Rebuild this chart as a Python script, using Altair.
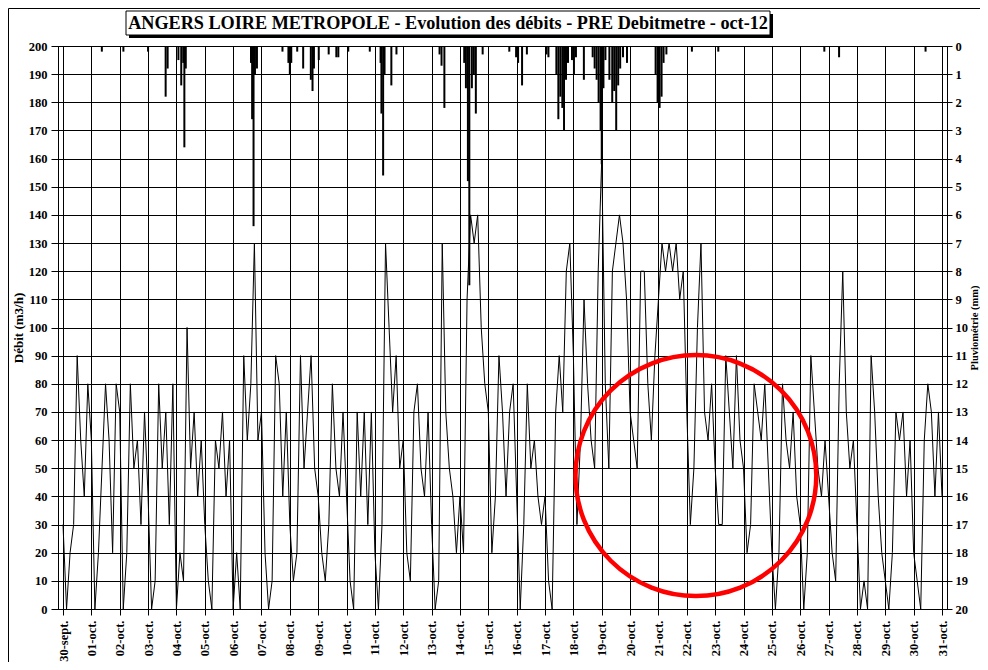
import altair as alt
import pandas as pd

TITLE = "ANGERS LOIRE METROPOLE - Evolution des débits - PRE Debitmetre - oct-12"

x_labels = ["30-sept.", "01-oct.", "02-oct.", "03-oct.", "04-oct.", "05-oct.", "06-oct.",
            "07-oct.", "08-oct.", "09-oct.", "10-oct.", "11-oct.", "12-oct.", "13-oct.",
            "14-oct.", "15-oct.", "16-oct.", "17-oct.", "18-oct.", "19-oct.", "20-oct.",
            "21-oct.", "22-oct.", "23-oct.", "24-oct.", "25-oct.", "26-oct.", "27-oct.",
            "28-oct.", "29-oct.", "30-oct.", "31-oct."]

# flow (m3/h), 8 readings per day (every 3 h), from 30-sept 00:00
flow_by_day = [
    [30, 0, 20, 30, 90, 60, 40, 80],
    [60, 0, 20, 50, 80, 60, 20, 80],
    [70, 0, 20, 80, 50, 60, 30, 70],
    [40, 0, 10, 80, 50, 70, 30, 80],
    [0, 20, 10, 100, 50, 70, 40, 60],
    [30, 10, 0, 60, 50, 70, 40, 60],
    [0, 20, 0, 90, 60, 80, 130, 60],
    [70, 20, 0, 10, 90, 80, 40, 70],
    [30, 10, 20, 90, 50, 70, 90, 50],
    [40, 20, 10, 30, 80, 50, 40, 70],
    [40, 10, 0, 70, 40, 70, 30, 70],
    [20, 0, 30, 130, 100, 70, 90, 50],
    [60, 20, 10, 70, 80, 50, 40, 70],
    [30, 0, 10, 130, 70, 50, 40, 20],
    [40, 20, 110, 140, 130, 140, 100, 80],
    [70, 20, 40, 90, 70, 40, 70, 80],
    [40, 0, 30, 80, 50, 60, 40, 30],
    [40, 10, 0, 70, 90, 70, 120, 130],
    [90, 30, 60, 110, 80, 60, 50, 120],
    [160, 80, 50, 120, 130, 140, 130, 110],
    [70, 60, 50, 120, 120, 80, 60, 90],
    [110, 130, 120, 130, 120, 130, 110, 120],
    [70, 30, 50, 100, 130, 70, 60, 80],
    [50, 30, 30, 90, 70, 50, 90, 60],
    [50, 20, 30, 80, 70, 60, 80, 50],
    [20, 0, 20, 80, 60, 50, 70, 40],
    [30, 0, 20, 90, 70, 50, 40, 60],
    [40, 20, 10, 80, 120, 70, 50, 60],
    [30, 0, 10, 0, 90, 70, 40, 20],
    [10, 0, 20, 70, 60, 70, 40, 60],
    [20, 10, 0, 60, 80, 70, 40, 70],
]
flow_last = [40]

# rainfall (mm): time in days since 30-sept 00:00, and amount
rain_day = [1.37, 2.13, 3.00, 3.62, 3.69, 4.07, 4.17, 4.24, 4.28, 4.33,
            6.63, 6.67, 6.72, 6.77, 6.84, 7.74, 7.95, 8.00, 8.05, 8.26,
            8.47, 8.74, 8.80, 8.85, 9.02, 9.37, 9.64, 9.71, 10.06, 10.82,
            11.20, 11.23, 11.29, 11.34, 11.58, 11.76, 13.28, 13.35, 13.45, 14.15,
            14.21, 14.28, 14.33, 14.42, 14.49, 14.56, 14.80, 15.74, 15.98, 16.05,
            16.19, 16.36, 17.05, 17.12, 17.40, 17.47, 17.54, 17.61, 17.67, 17.74,
            17.81, 17.95, 18.02, 18.09, 18.37, 18.68, 18.75, 18.82, 18.89, 18.96,
            19.00, 19.06, 19.13, 19.27, 19.37, 19.44, 19.51, 19.58, 19.65, 19.75,
            19.89, 20.90, 20.97, 21.04, 21.11, 21.18, 21.28, 22.18, 23.11, 26.85,
            27.37, 30.42]
rain_mm = [0.2, 0.2, 0.2, 1.8, 0.8, 0.5, 1.4, 0.6, 3.6, 0.8,
           0.6, 2.6, 6.4, 1.0, 0.8, 0.2, 0.6, 1.0, 0.6, 0.2,
           0.8, 1.2, 1.6, 0.8, 0.5, 0.3, 0.4, 0.4, 0.2, 0.2,
           0.6, 2.4, 4.6, 1.0, 1.4, 0.3, 0.3, 0.7, 2.2, 0.6,
           1.5, 4.8, 8.5, 1.5, 1.0, 2.4, 0.3, 0.2, 0.4, 0.6,
           1.4, 0.3, 0.3, 0.4, 1.0, 2.6, 1.8, 2.2, 3.0, 1.2,
           0.6, 0.5, 1.0, 0.4, 1.2, 0.4, 0.8, 1.2, 2.0, 3.0,
           4.2, 1.5, 0.5, 1.2, 2.0, 1.6, 3.0, 1.4, 0.8, 0.4,
           0.6, 1.0, 2.0, 2.2, 1.8, 0.6, 0.3, 0.2, 0.2, 0.2,
           0.4, 0.2]

# highlight circle (centre in data units)
circle_t = [22.32]
circle_q = [47.4]

flow_vals = [v for day in flow_by_day for v in day] + flow_last
flow_df = pd.DataFrame({"t": [i / 8 for i in range(len(flow_vals))], "q": flow_vals})
rain_df = pd.DataFrame({"t": rain_day, "r": rain_mm})
circ_df = pd.DataFrame({"t": circle_t, "q": circle_q})
one = pd.DataFrame({"k": [0]})

FONT = "Liberation Serif"
label_expr = "[" + ",".join("'%s'" % s for s in x_labels) + "][datum.value]"

W, H = 889, 563

x_enc = alt.X(
    "t:Q",
    title=None,
    scale=alt.Scale(domain=[0, 31], nice=False, zero=False),
    axis=alt.Axis(values=list(range(32)), labelExpr=label_expr, labelAngle=270,
                  labelAlign="right", labelBaseline="middle", labelPadding=5,
                  tickSize=6, labelFontSize=12.5, labelOverlap=False, labelFlush=False,
                  grid=True, title=None),
)
y_flow = alt.Y(
    "q:Q",
    scale=alt.Scale(domain=[0, 200], nice=False, zero=True),
    axis=alt.Axis(orient="left", values=list(range(0, 201, 10)), tickSize=7,
                  labelPadding=4, labelFontSize=12.5, title="Débit (m3/h)",
                  titleFontSize=13, titlePadding=3, grid=True),
)

flow_line = alt.Chart(flow_df).mark_line(color="black", strokeWidth=1).encode(x=x_enc, y=y_flow)
circle = alt.Chart(circ_df).mark_point(
    shape="circle", filled=False, size=58000, stroke="#ff0000", strokeWidth=4.5, opacity=1
).encode(x=x_enc, y=y_flow)
left = alt.layer(flow_line, circle)

rain = alt.Chart(rain_df).mark_bar(width=2, color="black").encode(
    x=x_enc,
    y=alt.Y("r:Q",
            scale=alt.Scale(domain=[0, 20], reverse=True, nice=False),
            axis=alt.Axis(orient="right", values=list(range(0, 21)), tickSize=5,
                          labelPadding=3, labelFontSize=12.5, grid=False,
                          title="Pluviométrie (mm)", titleFontSize=10.5, titleAngle=270,
                          titleX=27, titleY=H / 2, titleAlign="center",
                          titleBaseline="middle")),
    y2=alt.datum(0),
)

shadow = alt.Chart(one).mark_rect(color="black").encode(
    x=alt.value(71), x2=alt.value(715), y=alt.value(-32), y2=alt.value(-8))
box = alt.Chart(one).mark_rect(fill="white", stroke="black", strokeWidth=1).encode(
    x=alt.value(68), x2=alt.value(712), y=alt.value(-35), y2=alt.value(-11))
title_text = alt.Chart(one).mark_text(font=FONT, fontWeight="bold", fontSize=18.2,
                                      color="black", baseline="middle", align="center").encode(
    x=alt.value(390), y=alt.value(-22.5), text=alt.value(TITLE))
frame_top = alt.Chart(one).mark_rule(color="black", strokeWidth=1).encode(
    x=alt.value(-49.5), x2=alt.value(925), y=alt.value(-37.5))
frame_left = alt.Chart(one).mark_rule(color="black", strokeWidth=1).encode(
    x=alt.value(-49.5), y=alt.value(-37.5), y2=alt.value(616))

chart = alt.layer(left, rain, frame_top, frame_left, shadow, box, title_text).resolve_scale(
    y="independent"
).properties(
    width=W, height=H,
    autosize=alt.AutoSizeParams(type="none"),
    padding={"left": 50, "top": 38, "right": 33, "bottom": 53},
    background="white",
).configure_view(stroke="black", strokeWidth=1).configure_axis(
    labelFont=FONT, titleFont=FONT, labelFontWeight="bold", titleFontWeight="bold",
    labelColor="black", titleColor="black", tickColor="black", domainColor="black",
    gridColor="black", gridOpacity=1, gridWidth=1,
)

chart.save("out.html", embed_options={"renderer": "svg", "actions": False})
